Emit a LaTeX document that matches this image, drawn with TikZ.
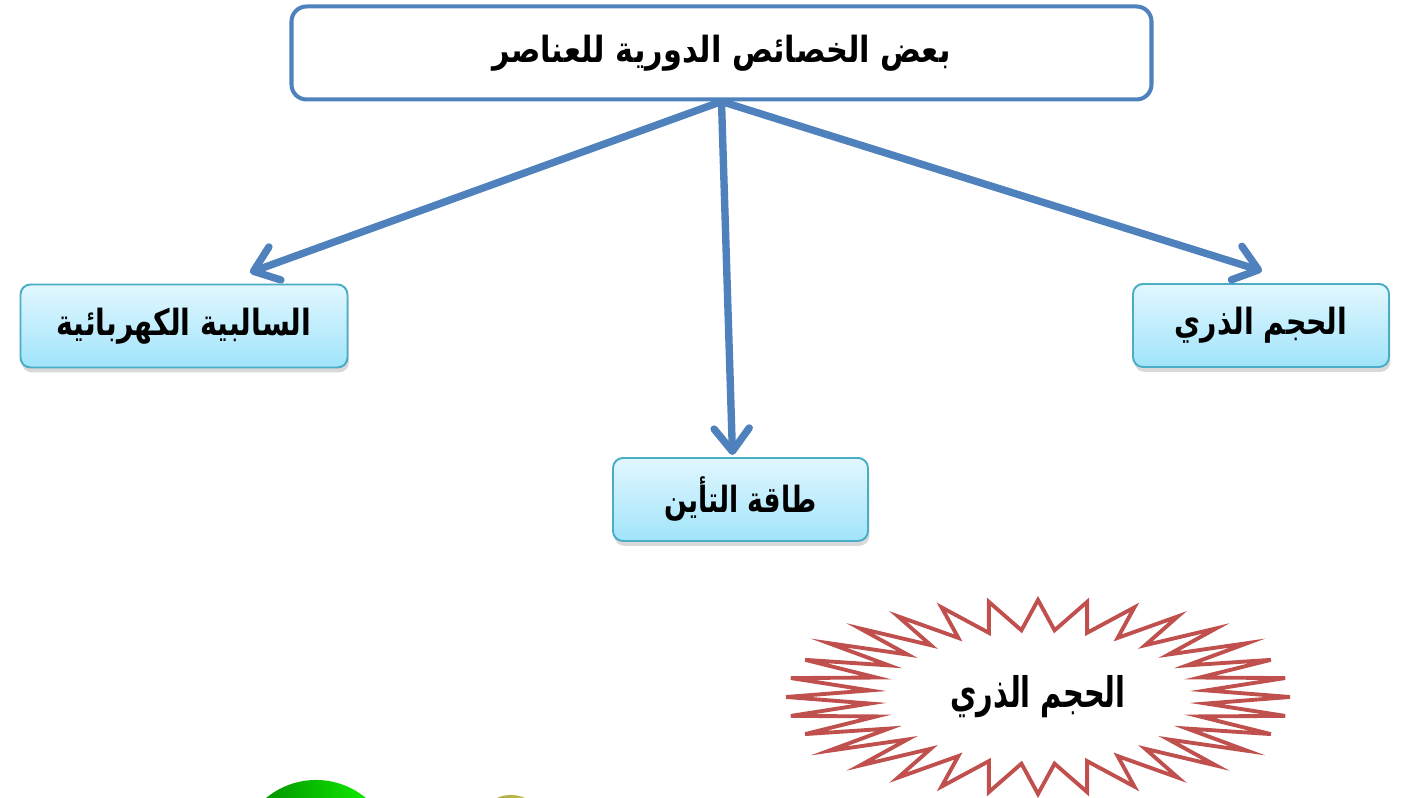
\documentclass[tikz,border=0pt]{standalone}
\usepackage{fontspec}
\usetikzlibrary{positioning,arrows.meta,shadows}
\newfontfamily\arabicfont[Script=Arabic]{DejaVu Sans}
\TeXXeTstate=1

\definecolor{titleblue}{RGB}{79,129,189}
\definecolor{leafedge}{RGB}{75,172,198}
\definecolor{leaftop}{RGB}{226,247,255}
\definecolor{leafbottom}{RGB}{160,228,250}
\definecolor{burstred}{RGB}{192,80,77}
\definecolor{ballyellow}{RGB}{205,200,80}

% Arabic label, narrowed a little
\newcommand{\artext}[2][0.85]{\scalebox{#1}[1.08]{\beginR #2\endR}}

\tikzset{
  labelfont/.style={font=\arabicfont\bfseries\fontsize{9.5}{11}\selectfont},
  titlebox/.style={labelfont, draw=titleblue, line width=1.15pt, rounded corners=0.15cm,
    fill=white, minimum width=8.6cm, minimum height=0.93cm},
  leafbox/.style={labelfont, draw=leafedge, line width=0.55pt, rounded corners=0.1cm,
    top color=leaftop, bottom color=leafbottom,
    drop shadow={opacity=0.3, shadow xshift=0.4pt, shadow yshift=-1.4pt},
    minimum height=0.83cm},
  link/.style={draw=titleblue, line width=2.1pt,
    -{Straight Barb[length=6.5pt, width=10pt, round]}},
  burstline/.style={draw=burstred, line width=1.1pt, fill=white, line join=miter},
}

\begin{document}
\begin{tikzpicture}
  \useasboundingbox (0,0) rectangle (14.02,7.98);
  \clip (0,0) rectangle (14.02,7.98);

  % Title box
  \node[titlebox] (title) at (7.215, 7.45) {\artext[0.91]{بعض الخصائص الدورية للعناصر}};

  % Three properties
  \node[leafbox, minimum width=3.27cm] (elec) at (1.84, 4.72) {\artext{السالبية الكهربائية}};
  \node[leafbox, minimum width=2.55cm] (ion) at (7.405, 2.985) {\artext[0.8]{طاقة التأين}};
  \node[leafbox, minimum width=2.56cm] (size) at (12.61, 4.725) {\artext{الحجم الذري}};

  % Arrows from the title
  \draw[link] (title.south) -- ([shift={(0.66,0.11)}]elec.north);
  \draw[link] (title.south) -- ([shift={(-0.08,0.02)}]ion.north);
  \draw[link] (title.south) -- ([shift={(0.01,0.12)}]size.north);

  % Starburst: 32 points on an ellipse
  \draw[burstline] (10.38-2.52, 1.01)
    \foreach \k in {0,...,31} {
      -- ({10.38-2.52*cos(\k*11.25)}, {1.01+0.97*sin(\k*11.25)})
      -- ({10.38-1.69*cos(\k*11.25+5.625)}, {1.01+0.67*sin(\k*11.25+5.625)})
    } -- cycle;
  \node[font=\arabicfont\bfseries\fontsize{10}{12}\selectfont] (burst) at (10.38, 1.01)
    {\scalebox{0.82}[1.2]{\beginR الحجم الذري\endR}};

  % Balls cut by the lower edge
  \shade[left color=green!50!black, right color=green!90!lime] (3.16,-0.60) circle (0.78);
  \shade[left color=ballyellow!80!black, right color=ballyellow] (5.11,-0.31) circle (0.34);
\end{tikzpicture}
\end{document}
